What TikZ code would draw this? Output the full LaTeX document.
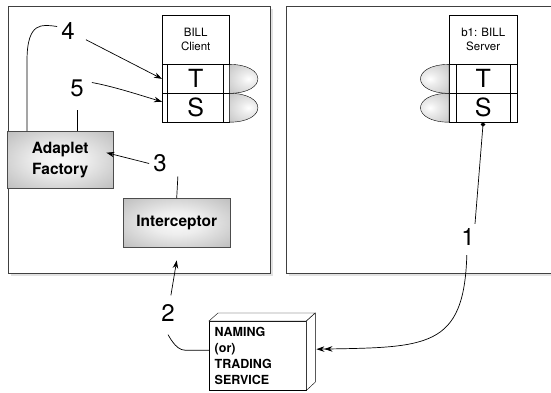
\documentclass[tikz,border=0pt]{standalone}
\usepackage{fontspec}
\setmainfont{TeX Gyre Heros}
\usetikzlibrary{arrows.meta, positioning, shadows}
\pgfdeclareradialshading{boxGlow}{\pgfpoint{0bp}{0bp}}{color(0bp)=(gray!4); color(12bp)=(gray!14); color(36bp)=(gray!52); color(50bp)=(gray!68)}
\pgfdeclareradialshading{lobeGlow}{\pgfpoint{0bp}{0bp}}{color(0bp)=(white); color(10bp)=(gray!15); color(35bp)=(gray!45); color(50bp)=(gray!60)}
\tikzstyle{panelBox} = [rectangle, anchor=north west, minimum height=267pt, draw=black!75, line width=1.2pt, fill=white, drop shadow={shadow xshift=2.5pt, shadow yshift=-2.5pt, fill=gray!45}]
\tikzstyle{headNode} = [rectangle, anchor=north west, draw, minimum height=49pt, inner sep=0pt, align=center, font=\fontsize{11.5}{14}\selectfont]
\tikzstyle{rowNode} = [rectangle, draw, minimum height=28.5pt, inner sep=0pt, font=\fontsize{25}{25}\selectfont]
\tikzstyle{shadeNode} = [rectangle, anchor=north west, draw=black!70, inner sep=0pt, align=center, shading=boxGlow, font=\bfseries\fontsize{15.5}{21}\selectfont]
\tikzstyle{lobe} = [draw, shading=lobeGlow]
\tikzstyle{numNode} = [inner sep=4pt, font=\fontsize{24}{24}\selectfont]
\tikzstyle{wire} = [line width=0.7pt]
\tikzstyle{arrow} = [line width=0.7pt,->,>={Stealth[length=8pt,width=5.5pt]}]

\begin{document}
\begin{tikzpicture}[x=1pt, y=-1pt]
        \useasboundingbox (0,0) rectangle (551,393);
        % the two hosts
        \node (leftPanel) [panelBox, minimum width=262pt] at (8,6) {};
        \node (rightPanel) [panelBox, minimum width=280pt] at (286,6) {};

        % client object
        \node (clientHead) [headNode, minimum width=67pt] at (162,15) {BILL\\Client};
        \node (clientT) [rowNode, minimum width=67pt, below=0pt of clientHead] {T};
        \node (clientS) [rowNode, minimum width=67pt, below=0pt of clientT] {S};
        \draw ([xshift=5pt]clientT.north west) -- ([xshift=5pt]clientS.south west);
        \draw ([xshift=-6pt]clientT.north east) -- ([xshift=-6pt]clientS.south east);
        \shade[lobe] (clientT.north east) .. controls +(38,0) and +(38,0) .. (clientT.south east) -- cycle;
        \shade[lobe] (clientS.north east) .. controls +(38,0) and +(38,0) .. (clientS.south east) -- cycle;

        % server object
        \node (serverHead) [headNode, minimum width=68pt] at (449,15) {b1: BILL\\Server};
        \node (serverT) [rowNode, minimum width=68pt, below=0pt of serverHead] {T};
        \node (serverS) [rowNode, minimum width=68pt, below=0pt of serverT] {S};
        \draw ([xshift=7pt]serverT.north west) -- ([xshift=7pt]serverS.south west);
        \draw ([xshift=-7pt]serverT.north east) -- ([xshift=-7pt]serverS.south east);
        \shade[lobe] (serverT.north west) .. controls +(-38,0) and +(-38,0) .. (serverT.south west) -- cycle;
        \shade[lobe] (serverS.north west) .. controls +(-38,0) and +(-38,0) .. (serverS.south west) -- cycle;

        \node (adaplet) [shadeNode, minimum width=106pt, minimum height=57pt] at (7,131) {Adaplet\\Factory};
        \node (interceptor) [shadeNode, minimum width=107pt, minimum height=49pt] at (123,198) {Interceptor};

        % naming service box
        \node (naming) [rectangle, anchor=north west, draw, fill=white, minimum width=97pt, minimum height=69pt,
            text width=86pt, inner xsep=5pt, inner ysep=0pt, align=left,
            font=\bfseries\fontsize{12.5}{16}\selectfont] at (209,321) {NAMING\\(or)\\TRADING\\SERVICE};
        \draw[fill=white] (naming.north west) -- ++(9,-8) -- ++(97,0) -- (naming.north east) -- cycle;
        \draw[fill=white] (naming.north east) -- ++(9,-8) -- ++(0,69) -- (naming.south east) -- cycle;

        \node (n1) [numNode] at (468,236.5) {1};
        \node (n2) [numNode] at (168,313) {2};
        \node (n3) [numNode] at (160,163.5) {3};
        \node (n4) [numNode] at (68,30.5) {4};
        \node (n5) [numNode] at (77,88.5) {5};

        \draw [wire] ([xshift=20pt]adaplet.north west) -- ++(0,-70)
            .. controls +(0,-40) and +(-15,-2) .. ([yshift=4pt]n4.west);
        \draw [arrow, shorten <=8pt] (n4) -- (clientT.west);
        \draw [wire, shorten >=9pt] (adaplet.north -| n5) -- (n5.south);
        \draw [arrow] ([xshift=4pt,yshift=6pt]n5.east) .. controls +(22,4) and +(-20,-6) .. ([yshift=6pt]clientS.west);
        \draw [wire] (interceptor.north) -- ([xshift=7pt]n3.south east);
        \draw [arrow] (n3.west) -- ([xshift=-7pt,yshift=7pt]adaplet.east);
        \draw [arrow, shorten <=5pt] (n2) -- ([yshift=-13pt]interceptor.south);
        \draw [wire, shorten >=9pt] ([yshift=5.5pt]naming.west) -- ++(-24,0)
            .. controls +(-10,0) and +(0,8) .. (n2.south);
        \draw [wire, {Circle[length=4.5pt]}-] (serverS.south) -- ([xshift=7pt]n1.north);
        \draw [arrow, ->>, shorten <=6pt] ([xshift=-1pt]n1.south)
            .. controls +(-3,100) and +(110,-2) .. ([xshift=10pt,yshift=6.5pt]naming.east);
    \end{tikzpicture}
\end{document}
